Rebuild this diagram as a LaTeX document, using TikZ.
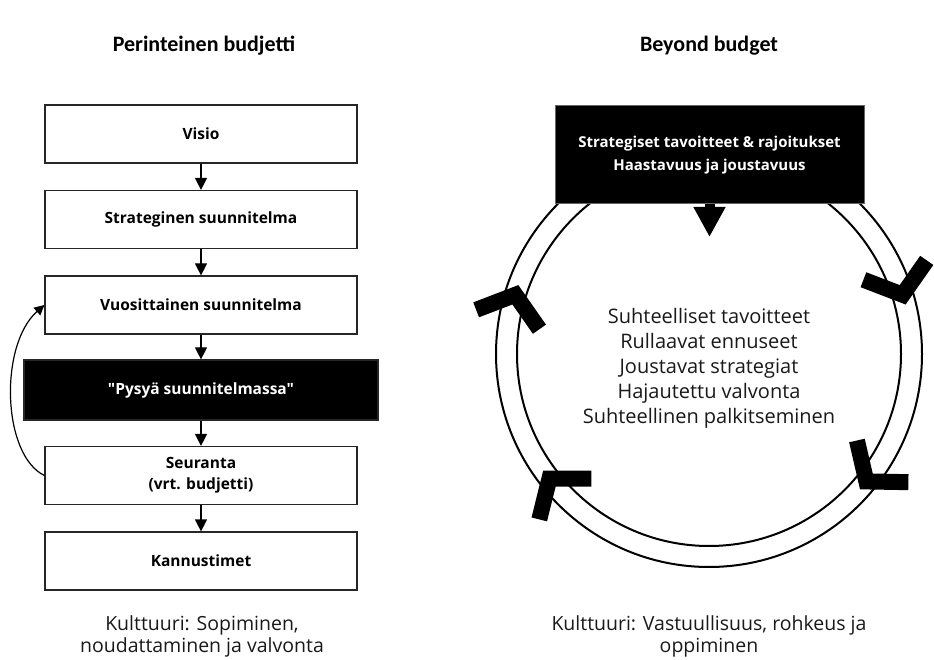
\documentclass[tikz,border=0pt]{standalone}
\usepackage{fontspec}
\setmainfont{Open Sans}
\newfontfamily\headfont{Carlito}
\newfontfamily\straightfont{Open Sans}[Ligatures=TeXOff]
\usetikzlibrary{arrows.meta}

\begin{document}
\begin{tikzpicture}[x=1pt,y=1pt,
  box/.style={draw=black!85, line width=1.2pt, fill=white, minimum width=312pt,
    minimum height=58pt, font=\fontsize{15.5}{21}\selectfont\bfseries, align=center, inner sep=0pt},
  darkbox/.style={box, fill=black, text=white, minimum width=354pt, minimum height=60pt},
  flow/.style={line width=1.2pt, -{Triangle[width=12pt,length=12pt]}},
  ring/.style={line width=2pt},
  chev/.style={line width=16pt, line join=miter, miter limit=10},
  head/.style={font=\headfont\fontsize{22}{26}\selectfont\bfseries},
  culture/.style={font=\fontsize{19.5}{22}\selectfont, align=center, text=black!90}
]
\useasboundingbox (0,0) rectangle (934,659);

% column headings
\node[head] (h1) at (204,613) {Perinteinen budjetti};
\node[head] (h2) at (709,613) {Beyond budget};

% traditional budgeting chain
\node[box] (visio) at (201,525) {Visio};
\node[box] (strat) at (201,439.5) {Strateginen suunnitelma};
\node[box] (vuos)  at (201,354) {Vuosittainen suunnitelma};
\node[darkbox] (pysy) at (201,269) {\straightfont\bfseries "Pysyä suunnitelmassa"};
\node[box] (seur)  at (201,183.5) {Seuranta\\(vrt. budjetti)};
\node[box] (kann)  at (201,98) {Kannustimet};

\draw[flow] (visio) -- (strat);
\draw[flow] (strat) -- (vuos);
\draw[flow] (vuos) -- (pysy);
\draw[flow] (pysy) -- (seur);
\draw[flow] (seur) -- (kann);
\draw[line width=1.2pt, -{Triangle[width=10pt,length=10pt]}]
  (seur.west) .. controls (2,204) and (-1,314) .. (vuos.west);

\node[culture] (cult1) at (202,23) {Kulttuuri: Sopiminen,\\noudattaminen ja valvonta};

% beyond budgeting cycle
\coordinate (rc) at (709,305);
\draw[ring] (rc) circle[radius=213];
\draw[ring] (rc) circle[radius=192];

\foreach \a in {163,17,-39,-142}{
  \begin{scope}[shift={(rc)}, rotate=\a, shift={(202.5,0)}, rotate=-90]
    \draw[chev] (128:42) -- (0,0) -- (232:42);
  \end{scope}
}

\node[draw=black!60, line width=1pt, fill=black, text=white, minimum width=309pt,
  minimum height=98pt, align=center, font=\fontsize{15}{23}\selectfont\bfseries]
  (goals) at (709.5,504) {Strategiset tavoitteet \& rajoitukset\\Haastavuus ja joustavuus};
\coordinate (tip) at (709.5,422);
\draw[line width=10pt, -{Triangle[width=30pt,length=30pt]}] (goals.south) -- (tip);

\node[align=center, font=\fontsize{20}{25}\selectfont, text=black!90] (mid) at (709,291)
  {Suhteelliset tavoitteet\\Rullaavat ennuseet\\Joustavat strategiat\\Hajautettu valvonta\\Suhteellinen palkitseminen};

\node[culture] (cult2) at (709,23) {Kulttuuri: Vastuullisuus, rohkeus ja\\oppiminen};
\end{tikzpicture}
\end{document}
